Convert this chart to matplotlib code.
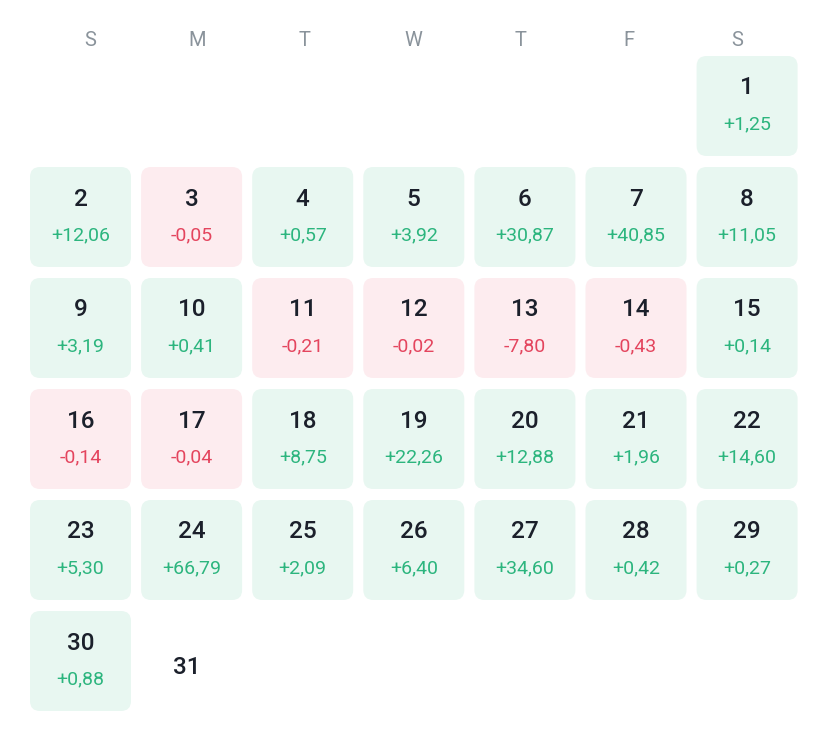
import numpy as np
import matplotlib.pyplot as plt
from matplotlib.patches import FancyBboxPatch

plt.rcParams['font.family'] = ['Roboto', 'DejaVu Sans']

weekdays = ["S", "M", "T", "W", "T", "F", "S"]
days = list(range(1, 32))
changes = [1.25, 12.06, -0.05, 0.57, 3.92, 30.87, 40.85, 11.05,
           3.19, 0.41, -0.21, -0.02, -7.80, -0.43, 0.14,
           -0.14, -0.04, 8.75, 22.26, 12.88, 1.96, 14.60,
           5.30, 66.79, 2.09, 6.40, 34.60, 0.42, 0.27,
           0.88, None]
first_weekday = 6  # the 1st falls on Saturday

green_bg, red_bg = "#E8F7F1", "#FDECEF"
green_fg, red_fg = "#2CB57E", "#E4455E"
dark = "#1B202B"
grey = "#8A939B"

W, H = 828, 742
fig = plt.figure(figsize=(W / 100, H / 100), dpi=100)
ax = fig.add_axes([0, 0, 1, 1])
ax.set_xlim(0, W)
ax.set_ylim(H, 0)
ax.axis("off")

col_x0 = 30
row_y0 = 56
step_x, step_y = 111.1, 111
cw, ch = 101, 100

header_x = [90, 197, 305, 413, 521, 629, 737]
for hx, d in zip(header_x, weekdays):
    ax.text(hx, 40, d, ha="center", va="center", fontsize=14.5, color=grey)

def fmt(v):
    s = "%+.2f" % v
    return s.replace(".", ",")

for i, (day, v) in enumerate(zip(days, changes)):
    pos = first_weekday + i
    r, c = divmod(pos, 7)
    x = col_x0 + c * step_x
    y = row_y0 + r * step_y
    cx = x + cw / 2
    if v is None:
        ax.text(cx - 5, y + 56, str(day), ha="center", va="center",
                fontsize=17.5, color=dark, fontweight="medium")
        continue
    bg = green_bg if v >= 0 else red_bg
    fg = green_fg if v >= 0 else red_fg
    box = FancyBboxPatch((x, y), cw, ch,
                         boxstyle="round,pad=0,rounding_size=10",
                         fc=bg, ec="none")
    ax.add_patch(box)
    ax.text(cx, y + 32, str(day), ha="center", va="center",
            fontsize=17.5, color=dark, fontweight="medium")
    ax.text(cx, y + 68, fmt(v), ha="center", va="center",
            fontsize=14, color=fg)

fig.savefig("out.png", dpi=100, facecolor="white")
